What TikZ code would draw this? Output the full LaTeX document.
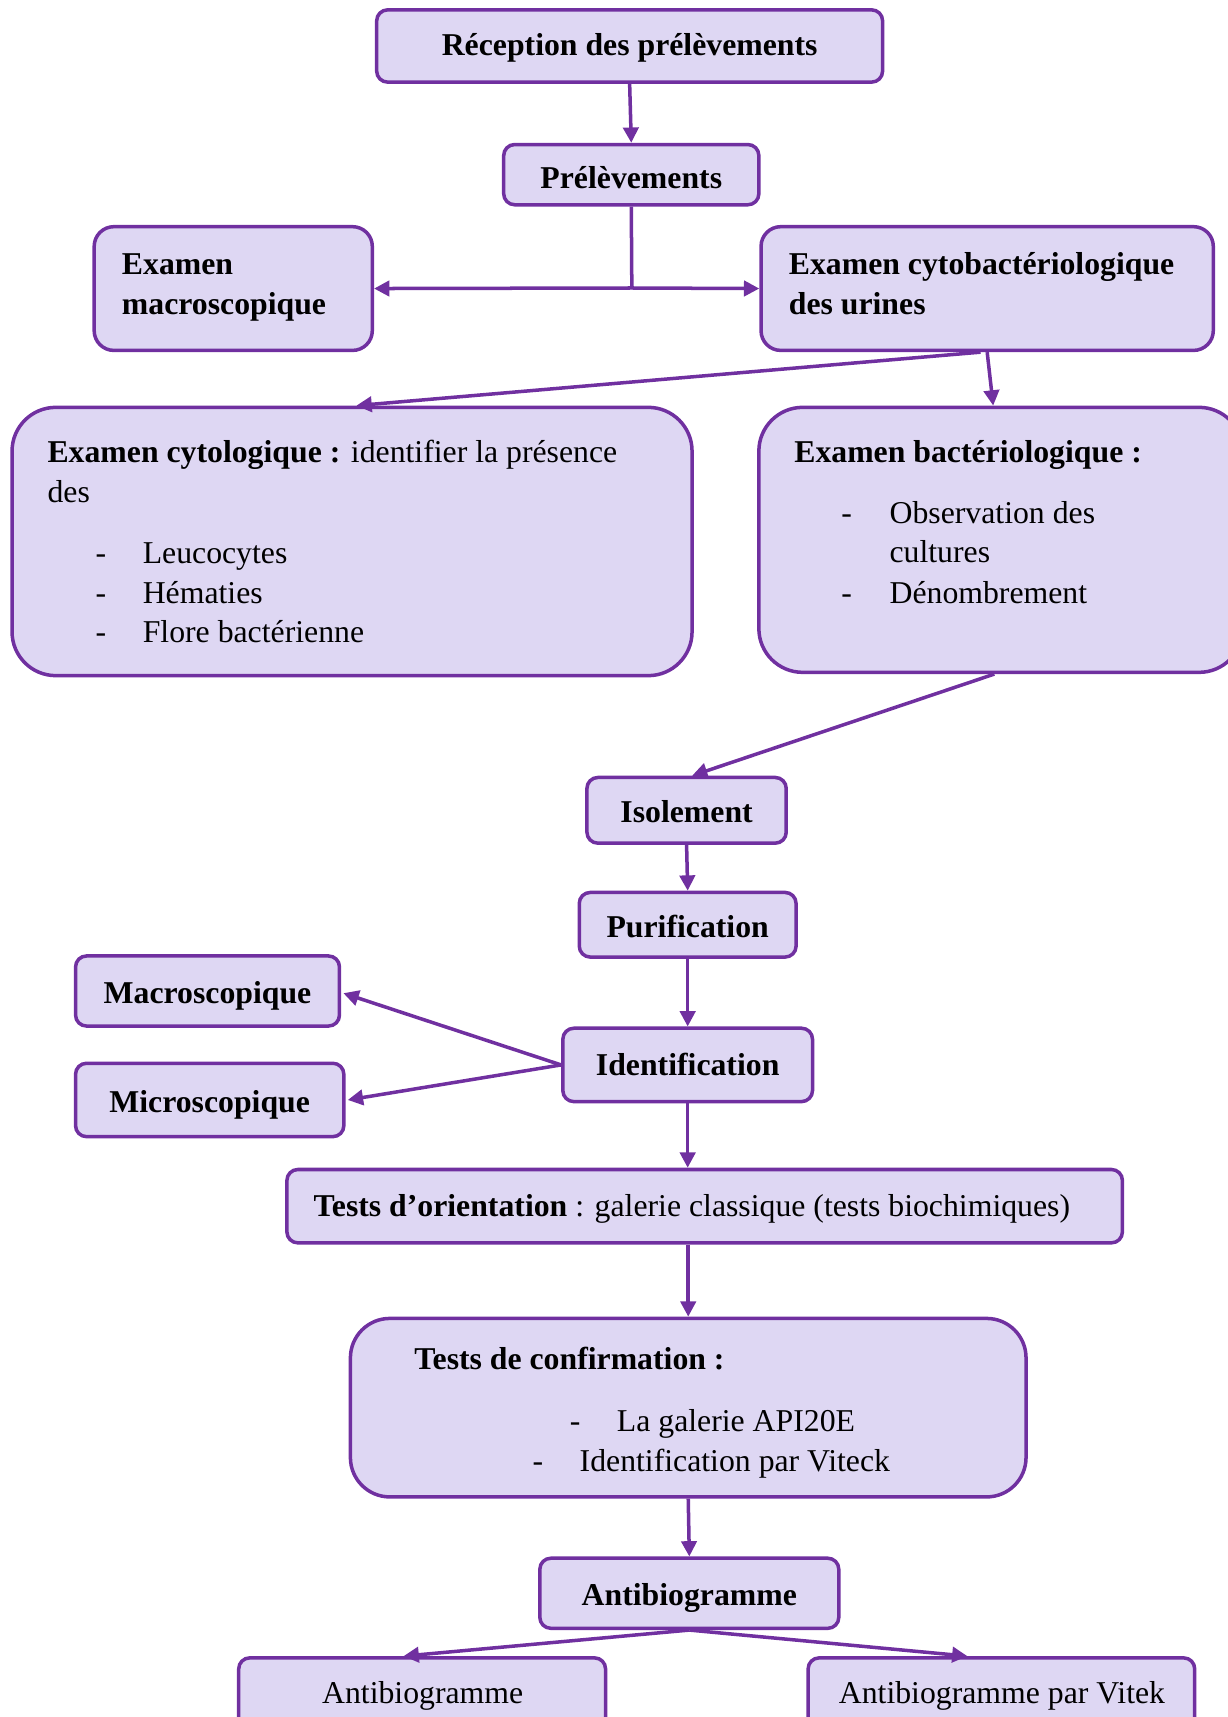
\documentclass[tikz,border=0pt]{standalone}
\usepackage{fontspec}
\setmainfont{Liberation Serif}
\usetikzlibrary{arrows.meta,calc}
\definecolor{boxfill}{HTML}{DED7F3}
\definecolor{boxdraw}{HTML}{7030A0}
\begin{document}
\begin{tikzpicture}[x=0.5pt,y=-0.5pt,
  box/.style={draw=boxdraw, fill=boxfill, line width=1.6pt, rounded corners=5pt, inner sep=0pt,
    text height=12pt, text depth=0.5pt,
    font=\fontsize{14.5}{18}\selectfont\bfseries},
  conn/.style={draw=boxdraw, line width=1.6pt, -{Triangle[length=7pt,width=7pt]}},
  link/.style={draw=boxdraw, line width=1.6pt},
  txt/.style={inner sep=0pt, anchor=base west, font=\fontsize{14.5}{18}\selectfont},
  ctxt/.style={inner sep=0pt, anchor=base, font=\fontsize{14.5}{18}\selectfont},
]
\useasboundingbox (0,0) rectangle (1121,1568);

% boxes
\node[box, text height=9.5pt, minimum width=231pt, minimum height=33pt] (rec) at (575,42) {Réception des prélèvements};
\node[box, text height=13pt, minimum width=116.5pt, minimum height=27.5pt] (prel) at (576.5,159.5) {Prélèvements};
\node[box, rounded corners=9pt, minimum width=127pt, minimum height=56.5pt] (macro) at (213,263.5) {};
\node[box, rounded corners=9pt, minimum width=206.5pt, minimum height=56.5pt] (cbu) at (901.5,263.5) {};
\node[box, rounded corners=20pt, minimum width=310.5pt, minimum height=122.5pt] (cyto) at (321.5,494.5) {};
\node[box, rounded corners=20pt, minimum width=221pt, minimum height=121pt] (bact) at (914,493) {};
\node[box, minimum width=91pt, minimum height=30pt] (iso) at (627,740) {Isolement};
\node[box, minimum width=99pt, minimum height=29.5pt] (puri) at (628,844.5) {Purification};
\node[box, minimum width=120.5pt, minimum height=32pt] (macs) at (189.5,905) {Macroscopique};
\node[box, text height=10pt, text depth=0pt, minimum width=114pt, minimum height=33.5pt] (ident) at (628,972.5) {Identification};
\node[box, minimum width=122.5pt, minimum height=33.5pt] (mics) at (191.5,1004.5) {Microscopique};
\node[box, minimum width=381.5pt, minimum height=33.5pt] (orient) at (643.5,1101.5) {};
\node[box, rounded corners=18pt, minimum width=308.5pt, minimum height=81.5pt] (conf) at (628.5,1285.5) {};
\node[box, minimum width=136.5pt, minimum height=32pt] (abg) at (629.5,1455) {Antibiogramme};
\node[box, minimum width=167.5pt, minimum height=43pt] (ab1) at (385.5,1557) {};
\node[box, minimum width=176.5pt, minimum height=43pt] (ab2) at (914.5,1557) {};

% texts
\node[txt] (t1) at (111,251) {\bfseries Examen};
\node[txt] (t2) at (111,287) {\bfseries macroscopique};
\node[txt] (t3) at (720,251) {\bfseries Examen cytobactériologique};
\node[txt] (t4) at (720,287) {\bfseries des urines};
\node[txt] (t5) at (43,422) {\textbf{Examen cytologique :} identifier la présence};
\node[txt] (t6) at (43,459) {des};
\node[txt] (d1) at (87,515) {-};
\node[txt] (d2) at (87,551) {-};
\node[txt] (d3) at (87,587) {-};
\node[txt] (t7) at (130,515) {Leucocytes};
\node[txt] (t8) at (130,551) {Hématies};
\node[txt] (t9) at (130,587) {Flore bactérienne};
\node[txt] (t10) at (725,422) {\bfseries Examen bactériologique :};
\node[txt] (d4) at (768,478) {-};
\node[txt] (d5) at (768,551) {-};
\node[txt] (t11) at (812,478) {Observation des};
\node[txt] (t12) at (812,514) {cultures};
\node[txt] (t13) at (812,551) {Dénombrement};
\node[txt] (t14) at (286,1111) {\textbf{Tests d’orientation} : galerie classique (tests biochimiques)};
\node[txt] (t15) at (378,1251) {\bfseries Tests de confirmation :};
\node[txt] (d6) at (520,1307) {-};
\node[txt] (t16) at (563,1307) {La galerie API20E};
\node[txt] (d7) at (486,1344) {-};
\node[txt] (t17) at (529,1344) {Identification par Viteck};
\node[ctxt] (t18) at (386,1556) {Antibiogramme};
\node[ctxt] (t19) at (915,1556) {Antibiogramme par Vitek};

% connectors
\coordinate (j) at (577,263);
\draw[conn] (rec.south) -- (prel.north);
\draw[link] (prel.south) -- (j);
\draw[conn] (j) -- (macro.east);
\draw[conn] (j) -- (cbu.west);
\draw[conn] ($(cbu.south)+(-6,0)$) -- ($(cyto.north)+(4,0)$);
\draw[conn] (cbu.south) -- ($(bact.north)+(-7,0)$);
\draw[conn] ($(bact.south)+(-6,0)$) -- ($(iso.north)+(5,0)$);
\draw[conn] (iso.south) -- (puri.north);
\draw[conn] (puri.south) -- (ident.north);
\draw[conn] (ident.west) -- ($(macs.east)+(2,2)$);
\draw[conn] (ident.west) -- ($(mics.east)+(2,0)$);
\draw[conn] (ident.south) -- (ident.south |- orient.north);
\draw[conn] (conf.north |- orient.south) -- (conf.north);
\draw[conn] (conf.south) -- (abg.north);
\draw[conn] (abg.south) -- ($(ab1.north)+(-17,0)$);
\draw[conn] (abg.south) -- ($(ab2.north)+(-31,0)$);
\end{tikzpicture}
\end{document}
